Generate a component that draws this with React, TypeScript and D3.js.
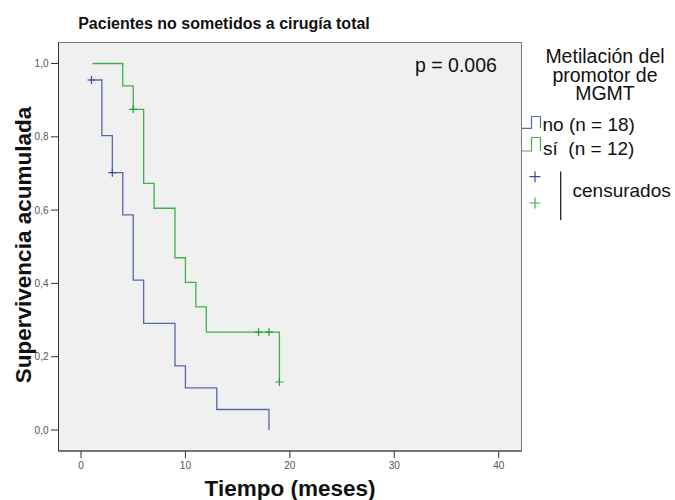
import React from "react";
import * as d3 from "d3";

// Kaplan-Meier step values, MGMT promoter methylation groups
const noTimes = [0.8, 2, 3, 4, 5, 6, 9, 10, 13, 18];
const noSurv = [0.955, 0.803, 0.702, 0.587, 0.409, 0.291, 0.175, 0.115, 0.056, 0];
const siTimes = [1.1, 4, 5, 6, 7, 9, 10, 11, 12, 19];
const siSurv = [1.0, 0.939, 0.875, 0.673, 0.605, 0.47, 0.403, 0.336, 0.267, 0.131];

// Censored observations
const noCensTimes = [1, 3];
const noCensSurv = [0.955, 0.702];
const siCensTimes = [5, 17, 18, 19];
const siCensSurv = [0.875, 0.267, 0.267, 0.131];

const xTicks = [0, 10, 20, 30, 40];
const yTicks = [0, 0.2, 0.4, 0.6, 0.8, 1.0];
const legendTitle = ["Metilación del", "promotor de", "MGMT"];
const legendLabels = ["no (n = 18)", "sí  (n = 12)"];

const W = 675;
const H = 500;
const frame = { left: 58.5, right: 521.5, top: 42.5, bottom: 451 };

const BLUE = "#5468b0";
const BLUE_DARK = "#3a4b9c";
const GREEN = "#3db24c";
const GREEN_DARK = "#2e9a3c";
const FONT = "'Liberation Sans', Arial, sans-serif";

export default function App() {
  const x = d3.scaleLinear().domain([0, 40]).range([81, 498.7]);
  const y = d3.scaleLinear().domain([0, 1]).range([430, 63.5]);

  const line = d3
    .line<[number, number]>()
    .x((d) => x(d[0]))
    .y((d) => y(d[1]))
    .curve(d3.curveStepAfter);

  const noPts = noTimes.map((t, i) => [t, noSurv[i]] as [number, number]);
  const siPts = siTimes.map((t, i) => [t, siSurv[i]] as [number, number]);

  const plus = (cx: number, cy: number, color: string, key: string, r = 4) => (
    <path
      key={key}
      d={`M${cx - r},${cy}H${cx + r}M${cx},${cy - r}V${cy + r}`}
      stroke={color}
      strokeWidth={1.2}
      fill="none"
    />
  );

  return (
    <svg
      width={W}
      height={H}
      style={{ position: "absolute", left: 0, top: 0, background: "#fff" }}
      fontFamily={FONT}
    >
      {/* title */}
      <text x={224} y={29} textAnchor="middle" fontSize={16} fontWeight="bold" fill="#111">
        Pacientes no sometidos a cirugía total
      </text>

      {/* plot area */}
      <rect
        x={frame.left}
        y={frame.top}
        width={frame.right - frame.left}
        height={frame.bottom - frame.top}
        fill="#f0f0f0"
        stroke="#7a7a7a"
        strokeWidth={1}
      />
      <line x1={frame.left} x2={frame.left} y1={frame.top} y2={frame.bottom} stroke="#333" />
      <line x1={frame.left} x2={frame.right} y1={frame.bottom} y2={frame.bottom} stroke="#333" />

      {/* y axis ticks */}
      {yTicks.map((t) => (
        <g key={`y${t}`}>
          <line x1={51} x2={frame.left} y1={y(t)} y2={y(t)} stroke="#333" />
          <text x={48.5} y={y(t) + 3.5} textAnchor="end" fontSize={10} fill="#555">
            {d3.format(".1f")(t).replace(".", ",")}
          </text>
        </g>
      ))}

      {/* x axis ticks */}
      {xTicks.map((t) => (
        <g key={`x${t}`}>
          <line x1={x(t)} x2={x(t)} y1={frame.bottom} y2={frame.bottom + 7} stroke="#333" />
          <text x={x(t)} y={469} textAnchor="middle" fontSize={10} fill="#555">
            {t}
          </text>
        </g>
      ))}

      {/* axis titles */}
      <text x={290} y={495.5} textAnchor="middle" fontSize={22.5} fontWeight="bold" fill="#111">
        Tiempo (meses)
      </text>
      <text
        transform={`translate(31,245) rotate(-90)`}
        textAnchor="middle"
        fontSize={22.5}
        fontWeight="bold"
        fill="#111"
      >
        Supervivencia acumulada
      </text>

      {/* survival curves */}
      <path d={line(noPts) ?? ""} fill="none" stroke={BLUE} strokeWidth={1.3} />
      <path d={line(siPts) ?? ""} fill="none" stroke={GREEN} strokeWidth={1.3} />

      {noCensTimes.map((t, i) => plus(x(t), y(noCensSurv[i]), BLUE_DARK, `nc${i}`))}
      {siCensTimes.map((t, i) => plus(x(t), y(siCensSurv[i]), GREEN_DARK, `sc${i}`))}

      {/* p-value */}
      <text x={415} y={72} fontSize={19.5} fill="#111">
        p = 0.006
      </text>

      {/* legend */}
      {legendTitle.map((s, i) => (
        <text key={s} x={605} y={63 + i * 18.7} textAnchor="middle" fontSize={19.5} fill="#111">
          {s}
        </text>
      ))}
      <path d="M521.5,128.3H531.5V116.5H540.5V128.3" fill="none" stroke={BLUE} strokeWidth={1.2} />
      <path d="M521.5,151H531.5V137.5H540.5V151" fill="none" stroke={GREEN} strokeWidth={1.2} />
      <text x={542.5} y={131} fontSize={19} fill="#111" style={{ whiteSpace: "pre" }}>
        {legendLabels[0]}
      </text>
      <text x={543} y={155} fontSize={19} fill="#111" style={{ whiteSpace: "pre" }}>
        {legendLabels[1]}
      </text>
      {plus(535, 176.7, BLUE_DARK, "lg1", 5.5)}
      {plus(535, 203, GREEN, "lg2", 5.5)}
      <line x1={560.7} x2={560.7} y1={171.5} y2={220} stroke="#111" strokeWidth={1.2} />
      <text x={572.5} y={197} fontSize={19} fill="#111">
        censurados
      </text>
    </svg>
  );
}
